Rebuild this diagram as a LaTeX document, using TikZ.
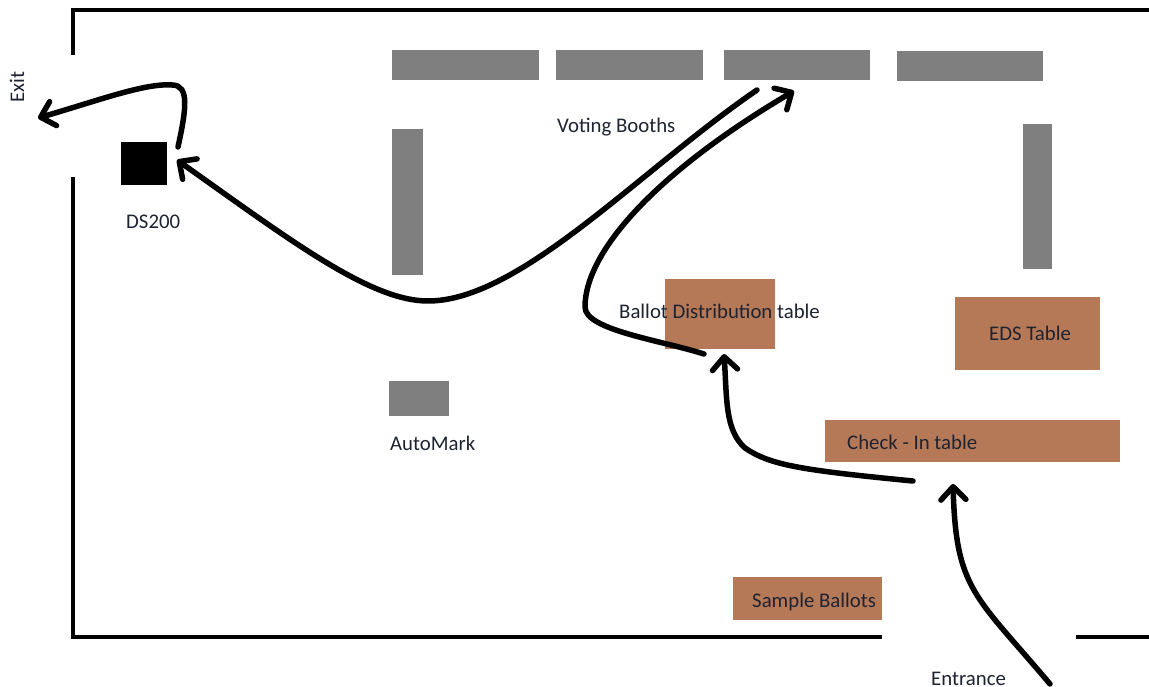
\documentclass[tikz,border=0pt]{standalone}
\usepackage{fontspec}
\setmainfont{Carlito}
\usetikzlibrary{arrows.meta}
\definecolor{booth}{RGB}{127,127,127}
\definecolor{tbl}{RGB}{182,121,87}
\definecolor{ink}{RGB}{30,35,50}
\tikzset{
 x=1pt,y=-1pt,
 wall/.style={line width=4pt,black},
 graybox/.style={fill=booth,draw=none},
 tablebox/.style={fill=tbl,draw=none},
 lbl/.style={font=\fontsize{20.8}{24}\selectfont,text=ink,inner sep=0pt,anchor=base west},
 route/.style={line width=5.5pt,black,line cap=round,line join=round,-{Straight Barb[length=13pt,width=25pt,line width=5.5pt,round]}},
}
\begin{document}
\begin{tikzpicture}
\useasboundingbox (0,0) rectangle (1149,687);
\fill[white] (0,0) rectangle (1149,687);
% walls
\draw[wall] (73,55) -- (73,10) -- (1149,10);
\draw[wall] (73,177) -- (73,637) -- (882,637);
\draw[wall] (1076,637) -- (1149,637);
% booths
\fill[graybox] (392,50) rectangle (539,80);
\fill[graybox] (556,50) rectangle (703,80);
\fill[graybox] (724,50) rectangle (870,80);
\fill[graybox] (897,51) rectangle (1043,81);
\fill[graybox] (392,129) rectangle (423,275);
\fill[graybox] (1023,124) rectangle (1052,269);
\fill[graybox] (389,381) rectangle (449,416);
\fill[black] (121,142) rectangle (167,185);
% tables
\fill[tablebox] (665,279) rectangle (775,349);
\fill[tablebox] (955,297) rectangle (1100,370);
\fill[tablebox] (825,420) rectangle (1120,462);
\fill[tablebox] (733,577) rectangle (882,620);
% labels
\node[lbl] (voting) at (557,133) {Voting Booths};
\node[lbl] (ds) at (126,229) {DS200};
\node[lbl] (auto) at (390,450) {AutoMark};
\node[lbl] (ballot) at (619,318) {Ballot Distribution table};
\node[lbl] (eds) at (989,340) {EDS Table};
\node[lbl] (check) at (847,449) {Check - In table};
\node[lbl] (sample) at (752,607) {Sample Ballots};
\node[lbl] (entrance) at (931,685) {Entrance};
\node[lbl,rotate=90] (exit) at (24,103) {Exit};
% route points
\coordinate (e0) at (1050,684);
\coordinate (e1) at (953,484);
\coordinate (c0) at (913,481);
\coordinate (c1) at (724,354);
\coordinate (b0) at (704,354);
\coordinate (b1) at (585,307);
\coordinate (b2) at (794,91);
\coordinate (m0) at (757,90);
\coordinate (m1) at (428,301);
\coordinate (m2) at (177,160);
\coordinate (d0) at (178,147);
\coordinate (d1) at (172,85);
\coordinate (d2) at (38,118);
% routes
\draw[route] (e0) .. controls (975,595) and (956,590) .. (e1);
\draw[route] (c0) .. controls (800,470) and (770,465) .. (745,448) .. controls (725,430) and (727,400) .. (c1);
\draw[route] (b0) .. controls (660,340) and (585,330) .. (b1) .. controls (585,250) and (660,170) .. (b2);
\draw[route] (m0) .. controls (640,170) and (520,301) .. (m1) .. controls (370,301) and (290,240) .. (m2);
\draw[route] (d0) .. controls (186,110) and (190,85) .. (d1) .. controls (145,83) and (100,100) .. (d2);
\end{tikzpicture}
\end{document}
